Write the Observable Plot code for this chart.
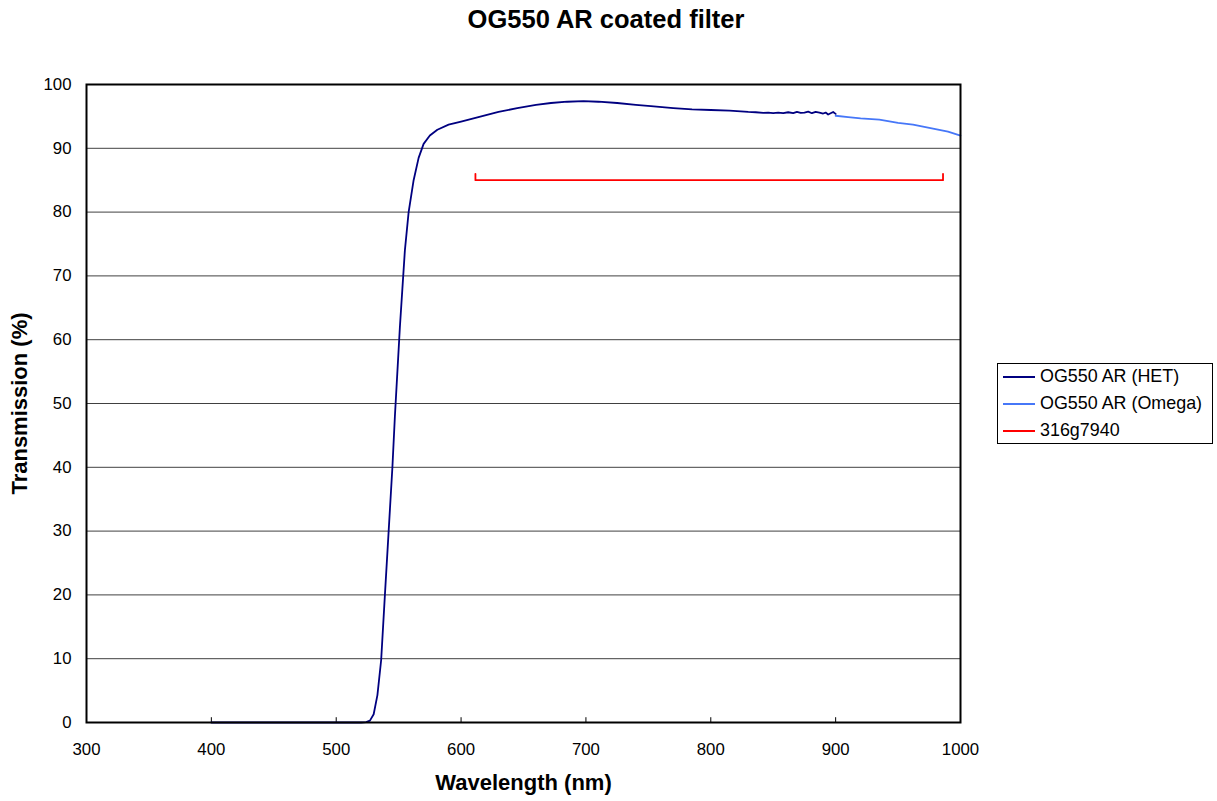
<!DOCTYPE html>
<html>
<head>
<meta charset="utf-8">
<script src="https://cdn.jsdelivr.net/npm/d3@7"></script>
<script src="https://cdn.jsdelivr.net/npm/@observablehq/plot@0.6"></script>
<style>
  html, body { margin: 0; padding: 0; background: #fff; }
  #wrap { position: relative; width: 1217px; height: 801px; font-family: "Liberation Sans", Arial, sans-serif; }
  #title { position: absolute; left: 0; width: 1212px; top: 7px; line-height: 25.5px; text-align: center; font-weight: bold; font-size: 25.5px; color: #000; }
  #legend { position: absolute; left: 997px; top: 363px; width: 214px; height: 79px; border: 1px solid #000; background: #fff; font-size: 17.9px; color: #000; }
  .item { position: absolute; left: 5px; height: 20px; display: flex; align-items: center; white-space: nowrap; }
  .swatch { width: 32px; height: 2px; margin-right: 5px; }
</style>
</head>
<body>
<div id="wrap">
  <div id="chart"></div>
  <div id="title">OG550 AR coated filter</div>
  <div id="legend"></div>
</div>
<script>
// Series: OG550 AR (HET)
const hetWl = [400, 450, 500, 520, 524, 527, 530, 533, 536, 539, 542, 545, 547, 549, 551, 553, 555, 558, 562, 566, 570, 575, 581, 590, 600, 610, 620, 630, 645, 660, 672, 685, 698, 710, 725, 740, 752, 770, 785, 800, 815, 830, 836, 842, 846, 850, 854, 858, 862, 866, 869, 872, 875, 878, 881, 884, 887, 890, 892, 894, 896, 898, 900];
const hetT  = [0, 0, 0, 0, 0.05, 0.3, 1.3, 4.3, 9.8, 20, 30, 40, 48, 55, 62, 68, 74, 80, 85, 88.5, 90.7, 92, 92.9, 93.7, 94.2, 94.7, 95.2, 95.7, 96.3, 96.8, 97.1, 97.3, 97.4, 97.3, 97.1, 96.8, 96.6, 96.3, 96.1, 96.0, 95.9, 95.7, 95.65, 95.55, 95.6, 95.5, 95.6, 95.5, 95.65, 95.5, 95.7, 95.55, 95.6, 95.75, 95.5, 95.7, 95.6, 95.45, 95.6, 95.3, 95.5, 95.7, 95.4];
// Series: OG550 AR (Omega)
const omegaWl = [900, 910, 920, 935, 950, 962, 975, 990, 1000];
const omegaT  = [95.1, 94.9, 94.7, 94.5, 94.0, 93.7, 93.2, 92.6, 92.0];
// Series: 316g7940
const refWl = [611.5, 611.5, 986, 986];
const refT  = [86, 85, 85, 86];
// Axis ticks
const xTicks = [300, 400, 500, 600, 700, 800, 900, 1000];
const yTicks = [0, 10, 20, 30, 40, 50, 60, 70, 80, 90, 100];
const seriesNames = ["OG550 AR (HET)", "OG550 AR (Omega)", "316g7940"];
const seriesColors = ["#000080", "#4677f8", "#ff0000"];

const het = hetWl.map((w, i) => ({w, t: hetT[i]}));
const omega = omegaWl.map((w, i) => ({w, t: omegaT[i]}));
const ref = refWl.map((w, i) => ({w, t: refT[i]}));

const chart = Plot.plot({
  width: 1217,
  height: 801,
  marginLeft: 86,
  marginRight: 257,
  marginTop: 84,
  marginBottom: 79,
  style: {fontFamily: "'Liberation Sans', Arial, sans-serif", fontSize: "16.8px", color: "#000", background: "#fff"},
  x: {domain: [300, 1000]},
  y: {domain: [0, 100]},
  marks: [
    Plot.ruleY(yTicks.filter(d => d > 0 && d < 100), {stroke: "#000", strokeOpacity: 0.75, strokeWidth: 1}),
    Plot.ruleX(xTicks.filter(d => d > 300 && d < 1000), {y1: 0, y2: 0.75, stroke: "#000", strokeWidth: 1}),
    Plot.line(omega, {x: "w", y: "t", stroke: seriesColors[1], strokeWidth: 1.8}),
    Plot.line(het, {x: "w", y: "t", stroke: seriesColors[0], strokeWidth: 1.8}),
    Plot.line(ref, {x: "w", y: "t", stroke: seriesColors[2], strokeWidth: 1.8}),
    Plot.frame({stroke: "#000", strokeWidth: 2}),
    Plot.axisX({ticks: xTicks, tickFormat: d => String(d), tickSize: 0, tickPadding: 21, label: "Wavelength (nm)", labelAnchor: "center", labelArrow: "none", labelOffset: 67, fontSize: 16.8}),
    Plot.axisY({ticks: yTicks, tickFormat: d => String(d), tickSize: 0, tickPadding: 15, label: "Transmission (%)", labelAnchor: "center", labelArrow: "none", labelOffset: 75, fontSize: 16.8})
  ]
});
// bold axis labels
chart.querySelectorAll("g[aria-label='x-axis label'] text, g[aria-label='y-axis label'] text").forEach(t => {
  t.style.fontWeight = "bold"; t.style.fontSize = "22px";
});
document.getElementById("chart").appendChild(chart);

const legend = document.getElementById("legend");
seriesNames.forEach((name, i) => {
  const item = document.createElement("div");
  item.className = "item";
  item.style.top = (2.5 + i * 27) + "px";
  const sw = document.createElement("div");
  sw.className = "swatch";
  sw.style.backgroundColor = seriesColors[i];
  const lab = document.createElement("span");
  lab.textContent = name;
  item.appendChild(sw); item.appendChild(lab);
  legend.appendChild(item);
});
</script>
</body>
</html>
